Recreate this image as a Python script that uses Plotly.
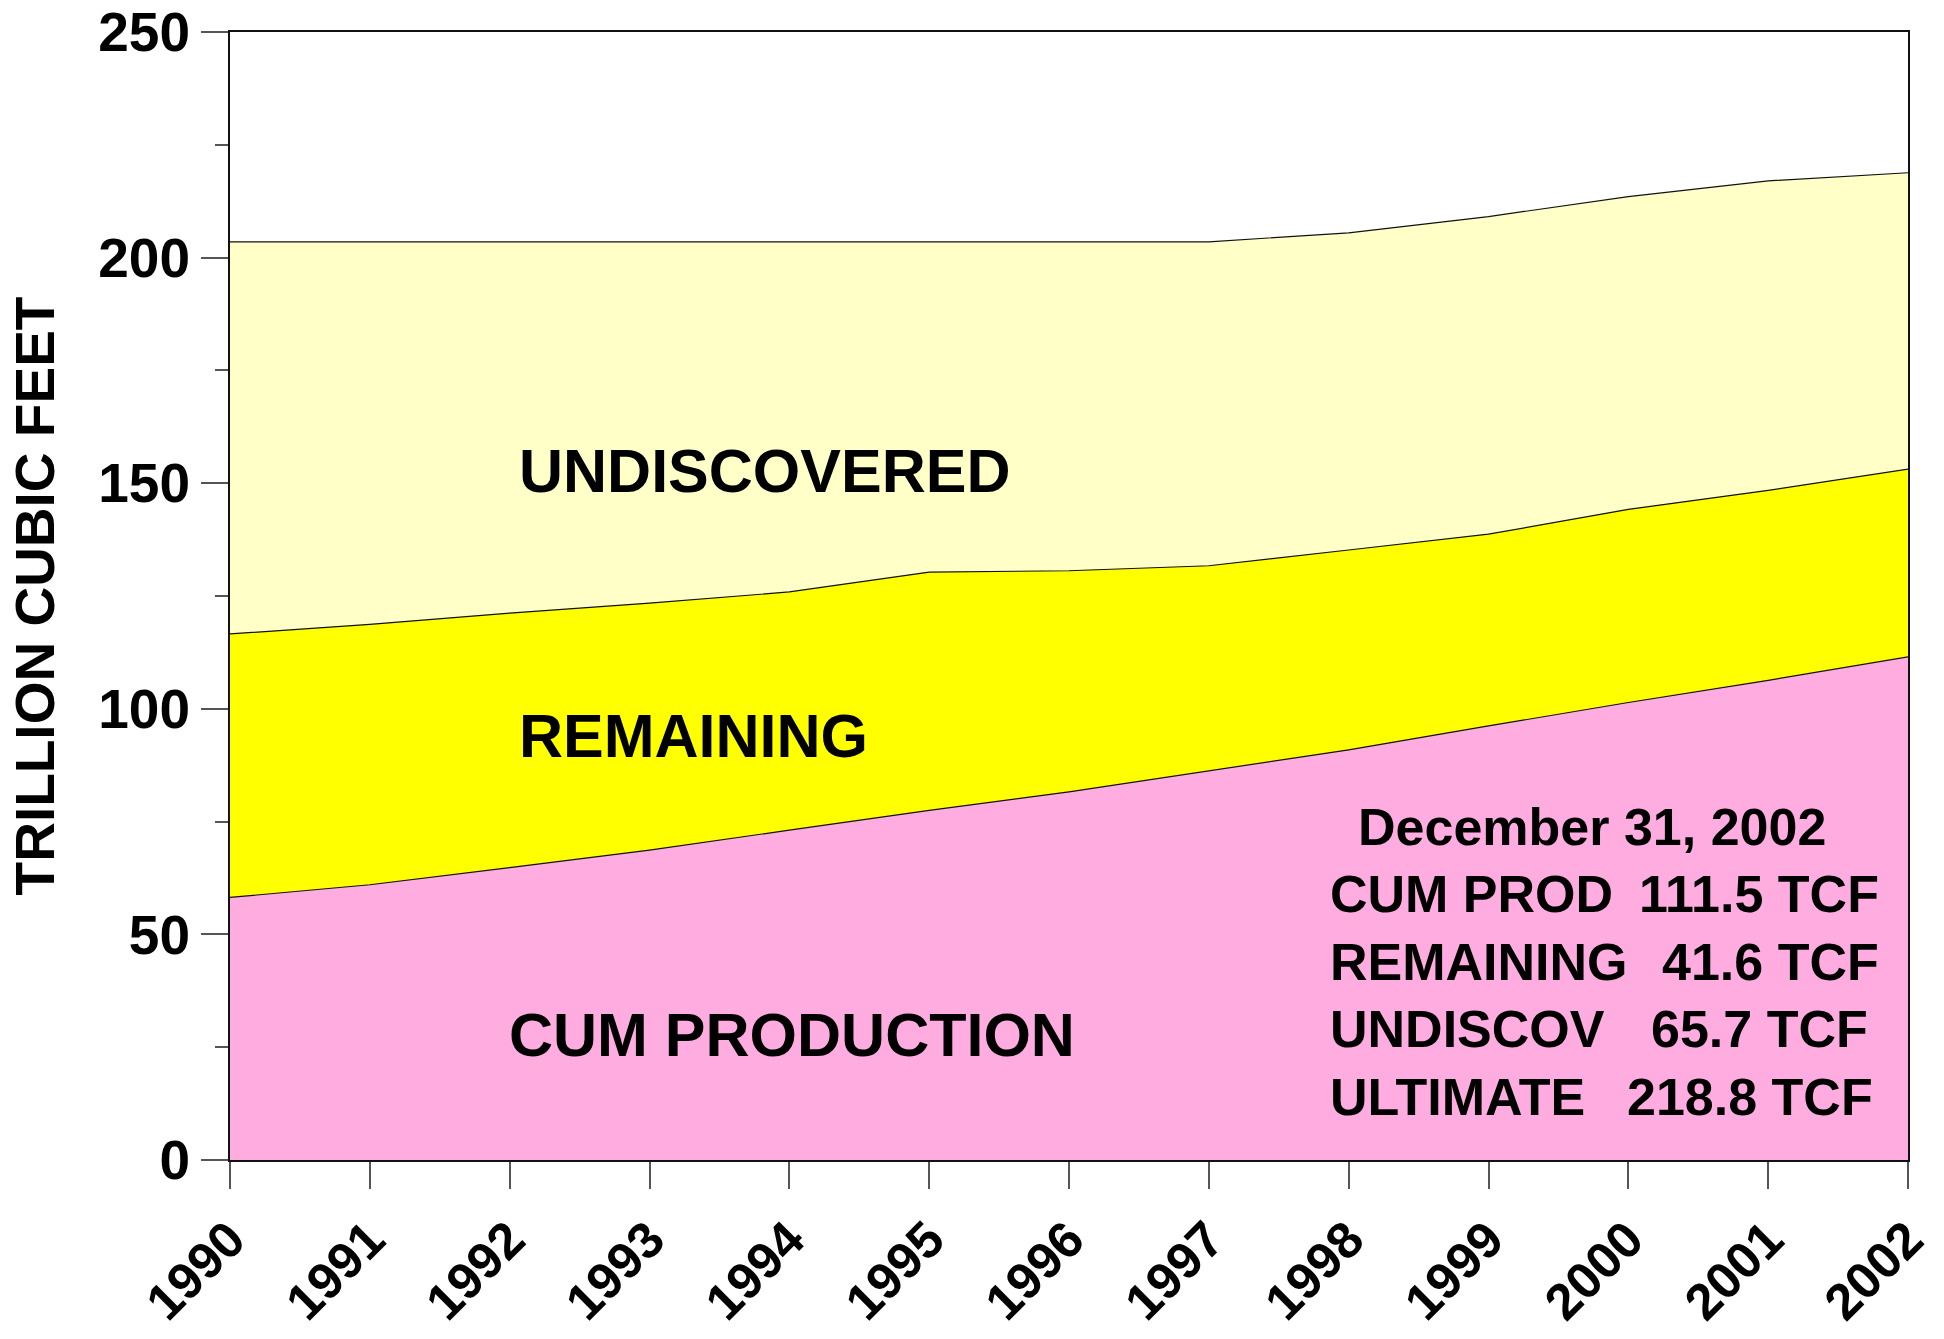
import plotly.graph_objects as go

# Natural gas resource build-up, trillion cubic feet (stacked layers)
years = [1990, 1991, 1992, 1993, 1994, 1995, 1996, 1997, 1998, 1999, 2000, 2001, 2002]
cum_production = [58.2, 61.0, 64.8, 68.7, 73.1, 77.5, 81.6, 86.3, 90.9, 96.2, 101.4, 106.3, 111.5]
remaining = [58.4, 57.7, 56.4, 54.7, 52.8, 52.8, 49.0, 45.4, 44.3, 42.5, 42.8, 42.1, 41.6]
undiscovered = [86.9, 84.8, 82.3, 80.1, 77.6, 73.2, 72.9, 71.8, 70.3, 70.4, 69.3, 68.6, 65.7]

y_ticks = [0, 50, 100, 150, 200, 250]

summary_date = "December 31, 2002"
summary_labels = ["CUM PROD", "REMAINING", "UNDISCOV", "ULTIMATE"]
summary_values = ["111.5 TCF", "41.6 TCF", "65.7 TCF", "218.8 TCF"]

FONT = "Liberation Sans, Arial, sans-serif"

fig = go.Figure()
layers = [
    ("CUM PRODUCTION", cum_production, "#FFACE0"),
    ("REMAINING", remaining, "#FFFF00"),
    ("UNDISCOVERED", undiscovered, "#FFFFC8"),
]
for name, vals, color in layers:
    fig.add_trace(go.Scatter(
        x=years, y=vals, name=name, mode="lines",
        stackgroup="one", fillcolor=color,
        line=dict(color="#111111", width=1.2),
        hoverinfo="x+y+name",
    ))

# Area labels
area_labels = [
    ("UNDISCOVERED", 1992.05, 152.7),
    ("REMAINING", 1992.05, 94.0),
    ("CUM PRODUCTION", 1991.98, 27.7),
]
for text, x, y in area_labels:
    fig.add_annotation(x=x, y=y, text=text, showarrow=False, xanchor="left",
                       yanchor="middle",
                       font=dict(family=FONT, size=61, color="black", weight="bold"))

# Summary block
fig.add_annotation(x=1998.05, y=73.8, text=summary_date, showarrow=False,
                   xanchor="left", yanchor="middle",
                   font=dict(family=FONT, size=52, color="black", weight="bold"))
label_y = [59.0, 43.9, 29.0, 14.0]
value_x = [2001.81, 2001.81, 2001.73, 2001.765]
for lab, val, y, vx in zip(summary_labels, summary_values, label_y, value_x):
    fig.add_annotation(x=1997.85, y=y, text=lab, showarrow=False,
                       xanchor="left", yanchor="middle",
                       font=dict(family=FONT, size=52, color="black", weight="bold"))
    fig.add_annotation(x=vx, y=y, text=val, showarrow=False,
                       xanchor="right", yanchor="middle",
                       font=dict(family=FONT, size=52, color="black", weight="bold"))

fig.update_layout(
    width=1944, height=1339,
    margin=dict(l=230, r=36, t=32, b=179),
    paper_bgcolor="white", plot_bgcolor="white",
    showlegend=False,
    font=dict(family=FONT, color="black"),
)
fig.update_xaxes(
    range=[1990, 2002], tickmode="array", tickvals=years,
    ticktext=[str(y) for y in years], tickangle=-45,
    tickfont=dict(family=FONT, size=51, color="black", weight="bold"),
    ticks="outside", ticklen=27, tickwidth=1.5, tickcolor="#555555",
    showline=True, linecolor="#111111", linewidth=2, mirror=True,
    showgrid=False, zeroline=False, automargin=False,
)
fig.update_yaxes(
    range=[0, 250], tickmode="array", tickvals=y_ticks,
    tickfont=dict(family=FONT, size=55, color="black", weight="bold"),
    ticks="outside", ticklen=27, tickwidth=1.5, tickcolor="#555555",
    minor=dict(dtick=25, ticks="outside", ticklen=13, tickwidth=1.5,
               tickcolor="#555555", showgrid=False),
    showline=True, linecolor="#111111", linewidth=2, mirror=True,
    showgrid=False, zeroline=False, automargin=False,
    title=dict(text="TRILLION CUBIC FEET", standoff=26,
               font=dict(family=FONT, size=55, color="black", weight="bold")),
)

fig.write_html("out.html")
